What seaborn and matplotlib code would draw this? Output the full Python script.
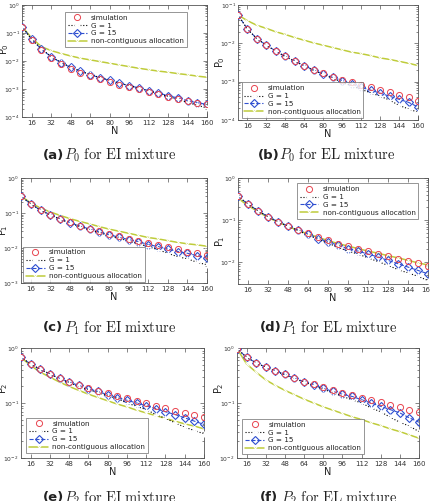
import numpy as np
import matplotlib
matplotlib.use("Agg")
import matplotlib.pyplot as plt
import seaborn as sns

# x axis: number of nodes
N = [8, 16, 24, 32, 40, 48, 56, 64, 72, 80, 88, 96, 104, 112, 120, 128, 136, 144, 152, 160]

# values, stored as powers of ten
# (a) P0, EI mixture
a_sim = [-0.77, -1.24, -1.60, -1.88, -2.10, -2.28, -2.42, -2.54, -2.65, -2.74, -2.84, -2.93, -3.01, -3.10, -3.18, -3.27, -3.35, -3.44, -3.50, -3.55]
a_g1 = [-0.77, -1.23, -1.57, -1.84, -2.05, -2.22, -2.36, -2.48, -2.59, -2.69, -2.79, -2.88, -2.97, -3.07, -3.16, -3.27, -3.37, -3.48, -3.58, -3.68]
a_g15 = [-0.77, -1.23, -1.58, -1.85, -2.06, -2.23, -2.37, -2.49, -2.60, -2.69, -2.79, -2.88, -2.96, -3.06, -3.14, -3.24, -3.32, -3.42, -3.49, -3.55]
a_nc = [-0.77, -1.18, -1.49, -1.63, -1.73, -1.82, -1.90, -1.96, -2.02, -2.08, -2.14, -2.20, -2.26, -2.31, -2.36, -2.40, -2.45, -2.49, -2.54, -2.58]

# (b) P0, EL mixture
b_sim = [-1.26, -1.63, -1.88, -2.05, -2.20, -2.34, -2.46, -2.58, -2.69, -2.78, -2.87, -2.95, -3.02, -3.08, -3.15, -3.21, -3.27, -3.34, -3.41, -3.50]
b_g1 = [-1.26, -1.63, -1.88, -2.05, -2.21, -2.35, -2.47, -2.59, -2.71, -2.81, -2.91, -3.02, -3.11, -3.20, -3.29, -3.38, -3.48, -3.62, -3.71, -3.80]
b_g15 = [-1.26, -1.63, -1.88, -2.05, -2.20, -2.34, -2.46, -2.58, -2.70, -2.80, -2.89, -2.97, -3.06, -3.15, -3.22, -3.30, -3.38, -3.46, -3.54, -3.66]
b_nc = [-1.26, -1.41, -1.53, -1.61, -1.70, -1.77, -1.85, -1.92, -1.99, -2.05, -2.11, -2.17, -2.23, -2.27, -2.32, -2.38, -2.42, -2.47, -2.52, -2.58]

# (c) P1, EI mixture
c_sim = [-0.52, -0.74, -0.92, -1.05, -1.16, -1.27, -1.36, -1.45, -1.52, -1.60, -1.67, -1.73, -1.80, -1.87, -1.92, -1.98, -2.04, -2.10, -2.15, -2.19]
c_g1 = [-0.52, -0.74, -0.92, -1.06, -1.18, -1.29, -1.39, -1.48, -1.56, -1.65, -1.72, -1.80, -1.88, -1.96, -2.05, -2.15, -2.25, -2.31, -2.41, -2.48]
c_g15 = [-0.52, -0.74, -0.92, -1.05, -1.17, -1.28, -1.37, -1.46, -1.54, -1.62, -1.69, -1.76, -1.82, -1.90, -1.96, -2.03, -2.10, -2.15, -2.22, -2.29]
c_nc = [-0.52, -0.71, -0.86, -0.97, -1.07, -1.16, -1.24, -1.31, -1.39, -1.46, -1.52, -1.58, -1.64, -1.70, -1.74, -1.79, -1.84, -1.88, -1.91, -1.95]

# (d) P1, EL mixture
d_sim = [-0.44, -0.62, -0.78, -0.92, -1.04, -1.14, -1.24, -1.32, -1.40, -1.48, -1.56, -1.62, -1.68, -1.74, -1.80, -1.86, -1.92, -1.98, -2.03, -2.10]
d_g1 = [-0.44, -0.62, -0.78, -0.92, -1.04, -1.15, -1.25, -1.36, -1.46, -1.55, -1.65, -1.74, -1.81, -1.90, -1.99, -2.08, -2.18, -2.26, -2.34, -2.44]
d_g15 = [-0.44, -0.62, -0.78, -0.92, -1.04, -1.14, -1.24, -1.33, -1.44, -1.52, -1.60, -1.68, -1.74, -1.81, -1.88, -1.96, -2.04, -2.12, -2.20, -2.28]
d_nc = [-0.48, -0.66, -0.80, -0.94, -1.05, -1.15, -1.25, -1.33, -1.41, -1.49, -1.56, -1.62, -1.68, -1.74, -1.79, -1.85, -1.90, -1.96, -2.02, -2.07]

# (e) P2, EI mixture
e_sim = [-0.17, -0.29, -0.39, -0.47, -0.55, -0.61, -0.67, -0.73, -0.78, -0.82, -0.87, -0.91, -0.96, -1.00, -1.05, -1.09, -1.14, -1.18, -1.21, -1.25]
e_g1 = [-0.17, -0.29, -0.39, -0.47, -0.56, -0.63, -0.70, -0.76, -0.81, -0.87, -0.92, -1.00, -1.06, -1.12, -1.21, -1.28, -1.36, -1.44, -1.50, -1.56]
e_g15 = [-0.17, -0.29, -0.39, -0.47, -0.55, -0.62, -0.68, -0.74, -0.79, -0.85, -0.90, -0.95, -1.00, -1.05, -1.10, -1.16, -1.21, -1.27, -1.33, -1.39]
e_nc = [-0.17, -0.32, -0.44, -0.53, -0.62, -0.70, -0.77, -0.84, -0.90, -0.96, -1.02, -1.07, -1.13, -1.18, -1.23, -1.28, -1.33, -1.38, -1.42, -1.47]

# (f) P2, EL mixture
f_sim = [-0.01, -0.17, -0.27, -0.35, -0.41, -0.48, -0.55, -0.61, -0.65, -0.71, -0.76, -0.81, -0.85, -0.90, -0.94, -0.99, -1.03, -1.08, -1.12, -1.16]
f_g1 = [-0.01, -0.17, -0.27, -0.35, -0.42, -0.49, -0.56, -0.62, -0.68, -0.75, -0.81, -0.88, -0.94, -1.00, -1.09, -1.16, -1.26, -1.35, -1.42, -1.52]
f_g15 = [-0.01, -0.17, -0.27, -0.35, -0.41, -0.48, -0.55, -0.61, -0.67, -0.73, -0.79, -0.84, -0.88, -0.94, -1.00, -1.06, -1.12, -1.18, -1.27, -1.35]
f_nc = [-0.01, -0.29, -0.44, -0.58, -0.68, -0.77, -0.85, -0.93, -1.00, -1.07, -1.13, -1.19, -1.25, -1.30, -1.36, -1.41, -1.47, -1.52, -1.58, -1.64]

x_ticks = [16, 32, 48, 64, 80, 96, 112, 128, 144, 160]
series_labels = ["simulation", "G = 1", "G = 15", "non-contiguous allocation"]

sns.set_style("ticks")
plt.rcParams["mathtext.fontset"] = "cm"

W, H = 431, 501
fig = plt.figure(figsize=(W / 100, H / 100), dpi=100)


def add_axes_px(left, top, right, bottom):
    return fig.add_axes([left / W, 1 - bottom / H, (right - left) / W, (bottom - top) / H])


panels = [
    dict(box=(22, 5, 207, 117), data=(a_sim, a_g1, a_g15, a_nc), ylim=(1e-4, 1), ylab="0", ylab_y=0.61,
         loc="upper right", anchor=(0.89, 0.94), tag="(a)", cap=r"$P_0\ \mathrm{for\ EI\ mixture}$", cpos=(43, 155)),
    dict(box=(238, 5, 418, 120), data=(b_sim, b_g1, b_g15, b_nc), ylim=(1e-4, 1e-1), ylab="0", ylab_y=0.5,
         loc="lower left", anchor=(0.02, 0.02), tag="(b)", cap=r"$P_0\ \mathrm{for\ EL\ mixture}$", cpos=(258, 155)),
    dict(box=(21, 178, 207, 283), data=(c_sim, c_g1, c_g15, c_nc), ylim=(1e-3, 1), ylab="1", ylab_y=0.5,
         loc="lower left", anchor=(0.01, 0.01), tag="(c)", cap=r"$P_1\ \mathrm{for\ EI\ mixture}$", cpos=(43, 328)),
    dict(box=(238, 178, 428, 284), data=(d_sim, d_g1, d_g15, d_nc), ylim=(3e-3, 1), ylab="1", ylab_y=0.4,
         loc="upper right", anchor=(0.95, 0.95), tag="(d)", cap=r"$P_1\ \mathrm{for\ EL\ mixture}$", cpos=(260, 328)),
    dict(box=(21, 348, 204, 458), data=(e_sim, e_g1, e_g15, e_nc), ylim=(1e-2, 1), ylab="2", ylab_y=0.63,
         loc="lower left", anchor=(0.03, 0.045), tag="(e)", cap=r"$P_2\ \mathrm{for\ EI\ mixture}$", cpos=(43, 498)),
    dict(box=(237, 348, 419, 458), data=(f_sim, f_g1, f_g15, f_nc), ylim=(1e-2, 1), ylab="2", ylab_y=0.63,
         loc="lower left", anchor=(0.03, 0.035), tag="(f)", cap=r"$P_2\ \mathrm{for\ EL\ mixture}$", cpos=(260, 498)),
]

red = "#e8444f"
blue = "#2f4fd0"
green = "#bfcc3a"

for p in panels:
    ax = add_axes_px(*p["box"])
    sim, g1, g15, nc = [10 ** np.array(v) for v in p["data"]]

    sns.lineplot(x=N, y=nc, ax=ax, color=green, linestyle="-", linewidth=1.1, marker="x",
                 markersize=2.5, markeredgewidth=0.7, label=series_labels[3], zorder=2)
    sns.lineplot(x=N, y=g15, ax=ax, color=blue, linestyle="--", linewidth=0.8, marker="D",
                 markersize=3.8, markerfacecolor="none", markeredgecolor=blue, markeredgewidth=0.8,
                 label=series_labels[2], zorder=3)
    sns.lineplot(x=N, y=g1, ax=ax, color="black", linestyle=":", linewidth=0.8, marker="+",
                 markersize=5, markeredgewidth=1.0, label=series_labels[1], zorder=4)
    sns.lineplot(x=N, y=sim, ax=ax, color=red, linestyle="none", marker="o",
                 markersize=4.4, markerfacecolor="none", markeredgecolor=red, markeredgewidth=0.7,
                 label=series_labels[0], zorder=5)

    ax.set_yscale("log")
    ax.set_xlim(8, 160)
    ax.set_ylim(*p["ylim"])
    ax.set_xticks(x_ticks)
    ax.tick_params(which="both", direction="in", top=True, right=True, width=0.5, color="#555555")
    ax.tick_params(axis="x", labelsize=5, pad=2, labelcolor="#333333")
    ax.tick_params(axis="y", labelsize=4.3, pad=1.5, labelcolor="#333333")
    ax.tick_params(which="major", length=3)
    ax.tick_params(which="minor", length=1.5)
    for s in ax.spines.values():
        s.set_linewidth(0.6)
        s.set_color("#555555")

    ax.set_xlabel("N", fontsize=7, labelpad=0, color="#222222")
    ax.set_ylabel(r"$\mathregular{P_" + p["ylab"] + "}$", fontsize=7, color="#222222")
    width_px = p["box"][2] - p["box"][0]
    ax.yaxis.set_label_coords(-11 / width_px, p["ylab_y"])

    handles, labels = ax.get_legend_handles_labels()
    order = [labels.index(l) for l in series_labels]
    leg = ax.legend([handles[i] for i in order], [labels[i] for i in order],
                    loc=p["loc"], bbox_to_anchor=p["anchor"], fontsize=5.2, frameon=True,
                    fancybox=False, borderaxespad=0, handlelength=2.6, handletextpad=0.6,
                    labelspacing=0.25, borderpad=0.4)
    leg.get_frame().set_edgecolor("#666666")
    leg.get_frame().set_linewidth(0.6)
    for t in leg.get_texts():
        t.set_color("#222222")

    cx, cy = p["cpos"]
    fig.text(cx / W, 1 - cy / H, p["tag"], fontsize=9.5, fontweight="bold",
             family="DejaVu Sans", va="center", ha="left", color="#222222")
    fig.text((cx + 21) / W, 1 - cy / H, p["cap"], fontsize=10.5,
             va="center", ha="left", color="#222222")

fig.savefig("out.png", dpi=100)
